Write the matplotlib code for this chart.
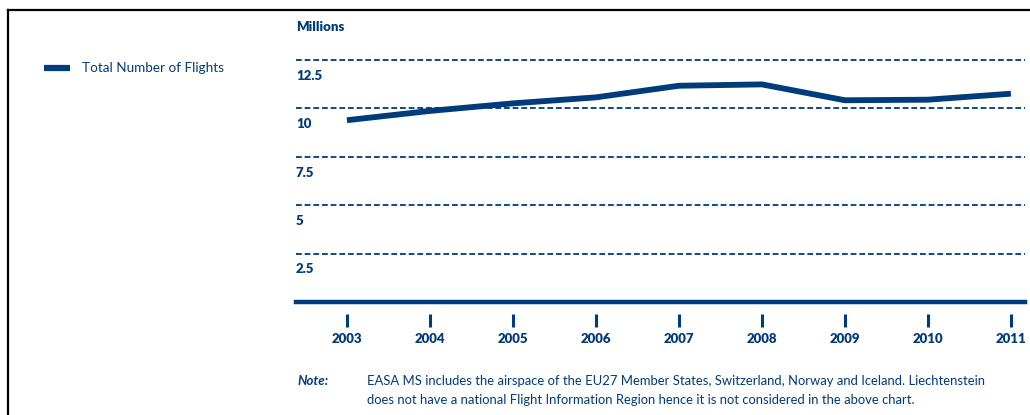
import matplotlib
matplotlib.use("Agg")
from matplotlib import pyplot as plt
from matplotlib.lines import Line2D

# total flights in the EASA MS airspace, millions
years = [2003, 2004, 2005, 2006, 2007, 2008, 2009, 2010, 2011]
flights = [9.39, 9.87, 10.26, 10.57, 11.17, 11.24, 10.42, 10.45, 10.76]
y_ticks = [2.5, 5, 7.5, 10, 12.5]
y_labels = ["2.5", "5", "7.5", "10", "12.5"]

NAVY = "#003b7b"
plt.rcParams['font.family'] = ['Lato', 'DejaVu Sans']

W, H = 1030, 415
fig = plt.figure(figsize=(W / 100, H / 100), dpi=100)

ax = fig.add_axes([296 / W, 1 - 302 / H, (1025 - 296) / W, (302 - 60) / H])
ax.plot(years, flights, color=NAVY, lw=4.2, solid_capstyle='butt', zorder=3)
ax.set_xlim(2002.386, 2011.17)
ax.set_ylim(0, 12.5)

# dashed grid + heavy baseline
for v in y_ticks:
    ax.axhline(v, color=NAVY, lw=1.3, ls=(0, (3.2, 1.6)), clip_on=False, zorder=1)
ax.axhline(0, color=NAVY, lw=3.2, clip_on=False, zorder=2)

for v, lab in zip(y_ticks, y_labels):
    ax.annotate(lab, xy=(0, v), xycoords=('axes fraction', 'data'),
                xytext=(0, -7), textcoords='offset points', va='top', ha='left',
                fontsize=9.5, fontweight='heavy', color=NAVY)

for s in ['top', 'right', 'left']:
    ax.spines[s].set_visible(False)
ax.spines['bottom'].set_position(('outward', 8.5))
ax.spines['bottom'].set_visible(False)
ax.set_yticks([])
ax.set_xticks(years)
ax.set_xticklabels([str(y) for y in years])
ax.tick_params(axis='x', length=9.5, width=2.2, color=NAVY, pad=4,
               labelsize=9.5, labelcolor=NAVY)
for t in ax.get_xticklabels():
    t.set_fontweight('heavy')

fig.text(296 / W, 1 - 27 / H, "Millions", fontsize=9.5, fontweight='heavy',
         color=NAVY, va='center', ha='left')

# legend
fig.add_artist(Line2D([44 / W, 70 / W], [1 - 68 / H] * 2, color=NAVY, lw=4.5,
                      solid_capstyle='butt'))
fig.text(82 / W, 1 - 68 / H, "Total Number of Flights", fontsize=9.7,
         color=NAVY, va='center', ha='left')

# note under the chart
fig.text(297 / W, 1 - 381 / H, "Note:", fontsize=9.5, fontweight='bold',
         style='italic', color=NAVY, va='center', ha='left')
fig.text(367 / W, 1 - 381 / H,
         "EASA MS includes the airspace of the EU27 Member States, Switzerland, "
         "Norway and Iceland. Liechtenstein",
         fontsize=9.4, color=NAVY, va='center', ha='left')
fig.text(367 / W, 1 - 400 / H,
         "does not have a national Flight Information Region hence it is not "
         "considered in the above chart.",
         fontsize=9.4, color=NAVY, va='center', ha='left')

# page frame
fig.add_artist(Line2D([7.5 / W, 1.0], [1 - 10 / H] * 2, color='black', lw=1.6))
fig.add_artist(Line2D([7.5 / W] * 2, [1 - 10 / H, 0], color='black', lw=1.6))

fig.savefig("out.png", dpi=100)
